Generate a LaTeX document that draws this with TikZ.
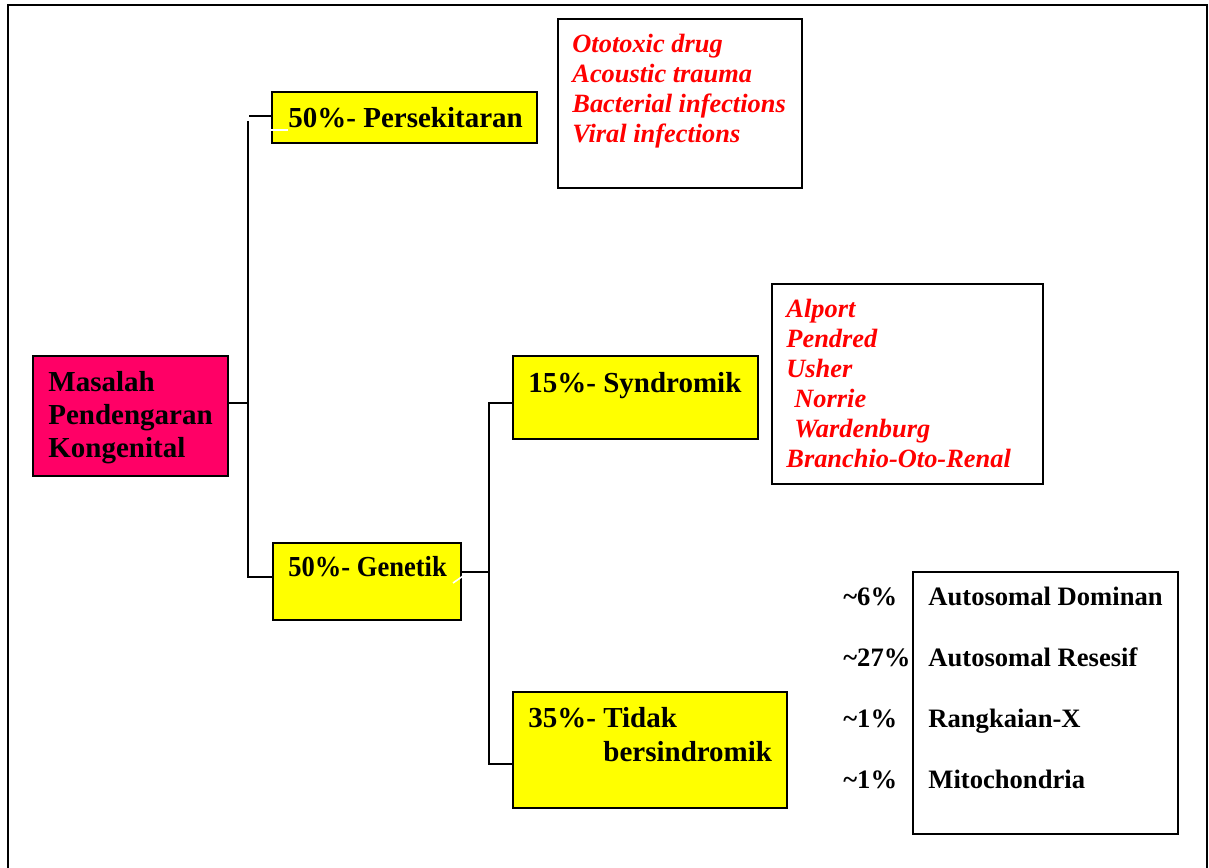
\documentclass[tikz,border=0pt]{standalone}
\usepackage{fontspec}
\setmainfont{Liberation Serif}
\usetikzlibrary{fit}
\definecolor{hotpink}{RGB}{255,0,102}
\definecolor{boxyellow}{RGB}{255,255,0}
\definecolor{listred}{RGB}{255,0,0}
\tikzset{
  box/.style={draw, line width=1.1pt, inner sep=0pt},
  ybox/.style={box, fill=boxyellow},
  conn/.style={line width=0.8pt},
  hd/.style={font=\fontsize{14.5}{17}\selectfont\bfseries, inner sep=0pt, anchor=base west},
  rd/.style={font=\fontsize{13.2}{15}\selectfont\bfseries\itshape, text=listred, inner sep=0pt, anchor=base west},
  rt/.style={font=\fontsize{13.3}{16}\selectfont\bfseries, inner sep=0pt, anchor=base west},
}
\begin{document}
\begin{tikzpicture}[x=0.5pt,y=-0.5pt]
\useasboundingbox (0,0) rectangle (1209,867);
\draw[line width=1pt] (8,880) -- (8,5) -- (1207,5) -- (1207,880);

% connectors
\coordinate (j1) at (248,403);
\coordinate (j1t) at (248,121);
\coordinate (j1b) at (248,577);
\coordinate (k1) at (249,116);
\coordinate (j2) at (489,572);
\coordinate (j2t) at (489,403);
\coordinate (j2b) at (489,764);

% boxes
\node[box, fill=hotpink, fit={(33,356) (228,476)}] (mas) {};
\node[ybox, fit={(272,92) (537,143)}] (env) {};
\node[ybox, fit={(273,543) (461,620)}] (gen) {};
\node[ybox, fit={(513,356) (758,439)}] (syn) {};
\node[ybox, fit={(513,692) (787,808)}] (tdk) {};
\node[box, fit={(558,19) (802,188)}] (envlist) {};
\node[box, fit={(772,284) (1043,484)}] (synlist) {};
\node[box, fit={(913,572) (1178,834)}] (tdklist) {};

\draw[conn] (mas.east |- j1) -- (j1);
\draw[conn] (j1t) -- (j1b) -- (j1b -| gen.west);
\draw[conn] (k1) -- (k1 -| env.west);
\draw[conn] (gen.east |- j2) -- (j2);
\draw[conn] (syn.west |- j2t) -- (j2t) -- (j2b) -- (j2b -| tdk.west);

% white marks
\coordinate (w1) at (288,130);
\coordinate (w2) at (453,583);
\coordinate (w3) at (463,576);
\draw[white, conn] (env.west |- w1) -- (w1);
\draw[white, conn] (w2) -- (w3);

% texts
\foreach \t [count=\i] in {Masalah, Pendengaran, Kongenital}
  \node[hd] (mas\i) at (48,358+33*\i) {\t};
\node[hd] (envtxt) at (288,127) {50\%- Persekitaran};
\node[hd] (gentxt) at (288,576) {\scalebox{0.915}[1]{50\%- Genetik}};
\node[hd] (syntxt) at (528,392) {15\%- Syndromik};
\node[hd] (tdktxt) at (528,727) {35\%- Tidak};
\node[hd] (tdktxtb) at (603,761) {bersindromik};

\foreach \t [count=\i] in {Ototoxic drug, Acoustic trauma, Bacterial infections, Viral infections}
  \node[rd] (env\i) at (572,22+30*\i) {\t};
\foreach \x/\t [count=\i] in {786/Alport, 786/Pendred, 786/Usher, 794/Norrie, 794/Wardenburg, 786/Branchio-Oto-Renal}
  \node[rd] (syn\i) at (\x,287+30*\i) {\t};

\foreach \p/\t [count=\i] in {6/Autosomal Dominan, 27/Autosomal Resesif, 1/Rangkaian-X, 1/Mitochondria}{
  \node[rt] (pc\i) at (843,544+61*\i) {\textasciitilde\p\%};
  \node[rt] (ty\i) at (928,544+61*\i) {\t};
}
\end{tikzpicture}
\end{document}
